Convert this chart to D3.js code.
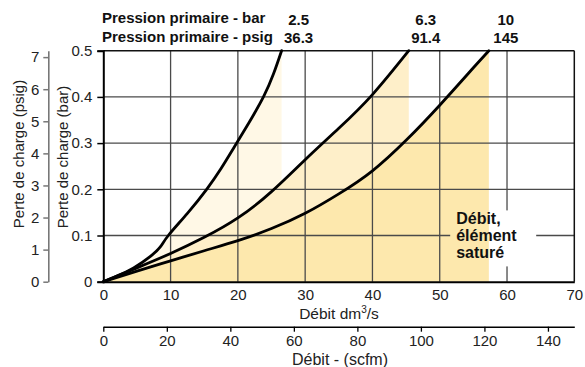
<!DOCTYPE html>
<html>
<head>
<meta charset="utf-8">
<script src="https://cdn.jsdelivr.net/npm/d3@7/dist/d3.min.js"></script>
<style>
  html, body { margin: 0; padding: 0; background: #fff; }
  svg { display: block; font-family: "Liberation Sans", Arial, Helvetica, sans-serif; }
</style>
</head>
<body>
<svg id="chart" width="585" height="367"></svg>
<script>
// Pressure drop curves (bar) against flow (dm3/s), one per inlet pressure
const flow25 = [0, 2, 4.5, 7, 8.5, 9.66, 12.5, 15.36, 17.5, 19.4, 21.6, 23.8, 25.3, 26.5];
const drop25 = [0, 0.012, 0.03, 0.055, 0.076, 0.1, 0.148, 0.2, 0.245, 0.29, 0.343, 0.4, 0.45, 0.5];

const flow63 = [0, 5, 10, 15, 20, 25, 30, 35, 40, 45.4];
const drop63 = [0, 0.03, 0.061, 0.096, 0.138, 0.195, 0.264, 0.332, 0.405, 0.5];

const flow10 = [0, 5, 10, 15, 20, 25, 30, 35, 40, 45, 50, 55, 57.3];
const drop10 = [0, 0.023, 0.045, 0.067, 0.089, 0.115, 0.148, 0.19, 0.24, 0.306, 0.382, 0.463, 0.5];

const pressureBar = ["2.5", "6.3", "10"];
const pressurePsig = ["36.3", "91.4", "145"];

const flowTicks = [0, 10, 20, 30, 40, 50, 60, 70];
const scfmTicks = [0, 20, 40, 60, 80, 100, 120, 140];
const barTicks = [0, 0.1, 0.2, 0.3, 0.4, 0.5];
const psigTicks = [0, 1, 2, 3, 4, 5, 6, 7];

const series = [
  { flow: flow25, drop: drop25, fill: "#fff8e6" },
  { flow: flow63, drop: drop63, fill: "#feefc9" },
  { flow: flow10, drop: drop10, fill: "#fde8ad" }
].map((s, i) => ({
  ...s,
  bar: pressureBar[i],
  psig: pressurePsig[i],
  pts: s.flow.map((f, j) => [f, s.drop[j]])
}));

const svg = d3.select("#chart");

const x = d3.scaleLinear().domain([0, 70]).range([103.3, 574.3]);
const y = d3.scaleLinear().domain([0, 0.5]).range([281.7, 50.7]);
const yPsig = d3.scaleLinear().domain([0, 7.2]).range([281.7, 50.7]);
const xScfm = d3.scaleLinear().domain([0, 148.3]).range([103.3, 574.3]);

// Area fills under each curve, lightest first
const area = d3.area()
  .x(d => x(d[0]))
  .y0(y(0))
  .y1(d => y(d[1]))
  .curve(d3.curveNatural);

svg.append("g").selectAll("path")
  .data(series)
  .join("path")
  .attr("d", s => area(s.pts))
  .attr("fill", s => s.fill);

// Annotation box leaves a gap in the grid
const noteX = x(52.0), noteY = y(0.15);
const defs = svg.append("defs");
const mask = defs.append("mask").attr("id", "gridMask");
mask.append("rect").attr("x", 0).attr("y", 0).attr("width", 585).attr("height", 367).attr("fill", "#fff");
mask.append("rect")
  .attr("x", noteX - 3).attr("y", noteY - 2)
  .attr("width", 86).attr("height", 56)
  .attr("fill", "#000");

const grid = svg.append("g").attr("mask", "url(#gridMask)");

grid.selectAll("line.v")
  .data(flowTicks.filter(t => t > 0 && t < 70))
  .join("line")
  .attr("x1", d => x(d)).attr("x2", d => x(d))
  .attr("y1", y(0)).attr("y2", y(0.5))
  .attr("stroke", "#4a4a4a").attr("stroke-width", 1.3);

grid.selectAll("line.h")
  .data(barTicks.filter(t => t > 0 && t < 0.5))
  .join("line")
  .attr("x1", x(0)).attr("x2", x(70))
  .attr("y1", d => y(d)).attr("y2", d => y(d))
  .attr("stroke", "#4a4a4a").attr("stroke-width", 1.3);

// Plot frame
svg.append("line").attr("x1", x(0)).attr("x2", x(70)).attr("y1", y(0.5)).attr("y2", y(0.5))
  .attr("stroke", "#111").attr("stroke-width", 1.5);
svg.append("line").attr("x1", x(70)).attr("x2", x(70)).attr("y1", y(0.5)).attr("y2", y(0))
  .attr("stroke", "#111").attr("stroke-width", 1.5);

// Left bar axis
const barAxis = d3.axisLeft(y).tickValues(barTicks).tickFormat(d => d === 0 ? "0" : d3.format(".1f")(d))
  .tickSize(6).tickPadding(5);
const gBar = svg.append("g").attr("transform", `translate(${x(0)},0)`).call(barAxis);
gBar.select(".domain").attr("stroke", "#000").attr("stroke-width", 2);
gBar.selectAll(".tick line").attr("stroke", "#000").attr("stroke-width", 1.5);
gBar.selectAll(".tick text").attr("font-size", 15).attr("fill", "#222").attr("font-family", null);

// Bottom flow axis
const flowAxis = d3.axisBottom(x).tickValues(flowTicks).tickSize(0).tickPadding(8);
const gFlow = svg.append("g").attr("transform", `translate(0,${y(0)})`).call(flowAxis);
gFlow.select(".domain").attr("stroke", "#000").attr("stroke-width", 2);
gFlow.selectAll(".tick text").attr("font-size", 15).attr("fill", "#222").attr("font-family", null);

// Psig axis
const psigAxis = d3.axisLeft(yPsig).tickValues(psigTicks).tickSize(5).tickPadding(4).tickSizeOuter(0);
const gPsig = svg.append("g").attr("transform", "translate(48.3,0)").call(psigAxis);
gPsig.select(".domain").attr("stroke", "#777").attr("stroke-width", 1.6);
gPsig.selectAll(".tick line").attr("stroke", "#777").attr("stroke-width", 1.5);
gPsig.selectAll(".tick text").attr("font-size", 15).attr("fill", "#222").attr("font-family", null);

// Scfm axis
const scfmAxis = d3.axisBottom(xScfm).tickValues(scfmTicks).tickSize(5).tickPadding(4).tickSizeOuter(0);
const gScfm = svg.append("g").attr("transform", "translate(0,326.7)").call(scfmAxis);
gScfm.select(".domain").attr("stroke", "#000").attr("stroke-width", 1.6);
gScfm.selectAll(".tick line").attr("stroke", "#000").attr("stroke-width", 1.3);
gScfm.selectAll(".tick text").attr("font-size", 15).attr("fill", "#222").attr("font-family", null);

// Curves
const line = d3.line().x(d => x(d[0])).y(d => y(d[1])).curve(d3.curveNatural);
svg.append("g").selectAll("path")
  .data(series)
  .join("path")
  .attr("d", s => line(s.pts))
  .attr("fill", "none")
  .attr("stroke", "#000")
  .attr("stroke-width", 2.8)
  .attr("stroke-linecap", "round");

// Axis titles
svg.append("text")
  .attr("transform", `translate(18,154) rotate(-90)`)
  .attr("text-anchor", "middle").attr("dominant-baseline", "central")
  .attr("font-size", 15).attr("fill", "#222")
  .text("Perte de charge (psig)");
svg.append("text")
  .attr("transform", `translate(62,157) rotate(-90)`)
  .attr("text-anchor", "middle").attr("dominant-baseline", "central")
  .attr("font-size", 15).attr("fill", "#222")
  .text("Perte de charge (bar)");

const flowTitle = svg.append("text")
  .attr("x", 339).attr("y", 318.5)
  .attr("text-anchor", "middle").attr("font-size", 15.5).attr("fill", "#222");
flowTitle.append("tspan").text("Débit dm");
flowTitle.append("tspan").attr("font-size", 10).attr("dy", -6).text("3");
flowTitle.append("tspan").attr("dy", 6).text("/s");

svg.append("text")
  .attr("x", 340).attr("y", 365)
  .attr("text-anchor", "middle").attr("font-size", 16).attr("fill", "#222")
  .text("Débit - (scfm)");

// Inlet pressure headings
svg.append("text").attr("x", 102).attr("y", 23)
  .attr("font-size", 15).attr("font-weight", "bold").attr("fill", "#111")
  .text("Pression primaire - bar");
svg.append("text").attr("x", 102).attr("y", 41.5)
  .attr("font-size", 15).attr("font-weight", "bold").attr("fill", "#111")
  .text("Pression primaire - psig");

const heads = svg.append("g").selectAll("g")
  .data(series)
  .join("g")
  .attr("transform", s => `translate(${x(s.flow[s.flow.length - 1]) + 17},0)`);
heads.append("text").attr("y", 24.5).attr("text-anchor", "middle")
  .attr("font-size", 15).attr("font-weight", "bold").attr("fill", "#111")
  .text(s => s.bar);
heads.append("text").attr("y", 43).attr("text-anchor", "middle")
  .attr("font-size", 15).attr("font-weight", "bold").attr("fill", "#111")
  .text(s => s.psig);

// Saturation note
const note = svg.append("text")
  .attr("x", noteX + 3).attr("y", noteY + 12)
  .attr("font-size", 16).attr("font-weight", "bold").attr("fill", "#111");
["Débit,", "élément", "saturé"].forEach((t, i) => {
  note.append("tspan").attr("x", noteX + 3).attr("dy", i === 0 ? 0 : 17).text(t);
});
</script>
</body>
</html>
